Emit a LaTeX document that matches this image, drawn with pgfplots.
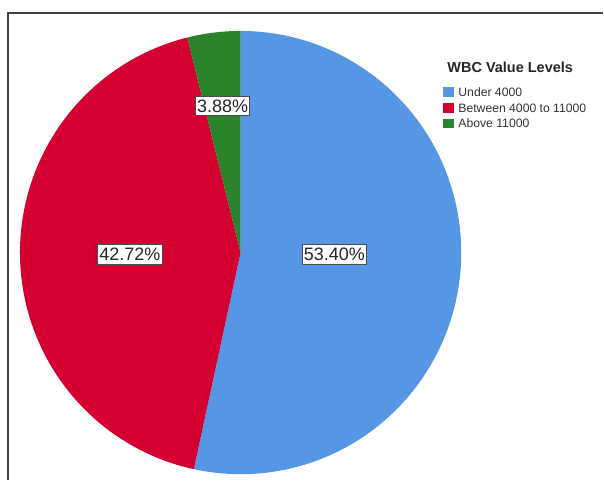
\documentclass[border=0pt]{standalone}
\usepackage{pgfplots}
\pgfplotsset{compat=1.18}
\usepackage{fontspec}
\setmainfont{Liberation Sans}
\definecolor{cblue}{RGB}{85,150,229}
\definecolor{cred}{RGB}{213,0,50}
\definecolor{cgreen}{RGB}{43,131,43}
% values (percent)
\def\vA{53.40}
\def\vB{42.72}
\def\vC{3.88}
\pgfmathsetmacro{\aA}{90}
\pgfmathsetmacro{\aB}{\aA-3.6*\vA}
\pgfmathsetmacro{\aC}{\aB-3.6*\vB}
\pgfmathsetmacro{\aD}{\aC-3.6*\vC}
\def\cx{241}
\def\cy{228}
\def\rx{221}
\def\ry{222}
\begin{document}
\begin{tikzpicture}
\begin{axis}[
  scale only axis, width=604pt, height=481pt,
  xmin=0, xmax=604, ymin=0, ymax=481,
  hide axis, clip=false,
  legend image code/.code={\fill[#1] (0pt,-4pt) rectangle (11pt,6pt);},
  legend style={draw=none, fill=none, at={(axis cs:441,396)}, anchor=north west,
    font=\fontsize{12.2}{12.2}\selectfont, row sep=4.0pt,
    nodes={inner sep=0pt, text height=9pt, text depth=2.5pt},
    column sep=4pt, text=black!80},
  legend cell align=left,
]
\path (axis cs:0,0) rectangle (axis cs:604,481);
\addplot[fill=cblue, draw=none, domain=\aB:\aA, samples=150, variable=\t]
  ({\cx+\rx*cos(\t)},{\cy+\ry*sin(\t)}) -- (axis cs:\cx,\cy) -- cycle;
\addlegendentry{Under 4000}
\addplot[fill=cred, draw=none, domain=\aC:\aB, samples=150, variable=\t]
  ({\cx+\rx*cos(\t)},{\cy+\ry*sin(\t)}) -- (axis cs:\cx,\cy) -- cycle;
\addlegendentry{Between 4000 to 11000}
\addplot[fill=cgreen, draw=none, domain=\aD:\aC, samples=30, variable=\t]
  ({\cx+\rx*cos(\t)},{\cy+\ry*sin(\t)}) -- (axis cs:\cx,\cy) -- cycle;
\addlegendentry{Above 11000}
\tikzset{lab/.style={draw=black!70, line width=0.9pt, fill=white, inner xsep=1.8pt,
  inner ysep=3.5pt, font=\fontsize{18}{18}\selectfont, text=black!85}}
\node[lab] at (axis cs:335,226) {53.40\%};
\node[lab] at (axis cs:130,226) {42.72\%};
\node[lab] at (axis cs:223,375) {3.88\%};
\node[anchor=base west, inner sep=0pt, font=\fontsize{14.5}{14.5}\selectfont\bfseries, text=black!85]
  at (axis cs:448,408) {WBC Value Levels};
\draw[line width=2pt, black!75] (axis cs:8,0) -- (axis cs:8,468) -- (axis cs:604,468);
\end{axis}
\end{tikzpicture}
\end{document}
